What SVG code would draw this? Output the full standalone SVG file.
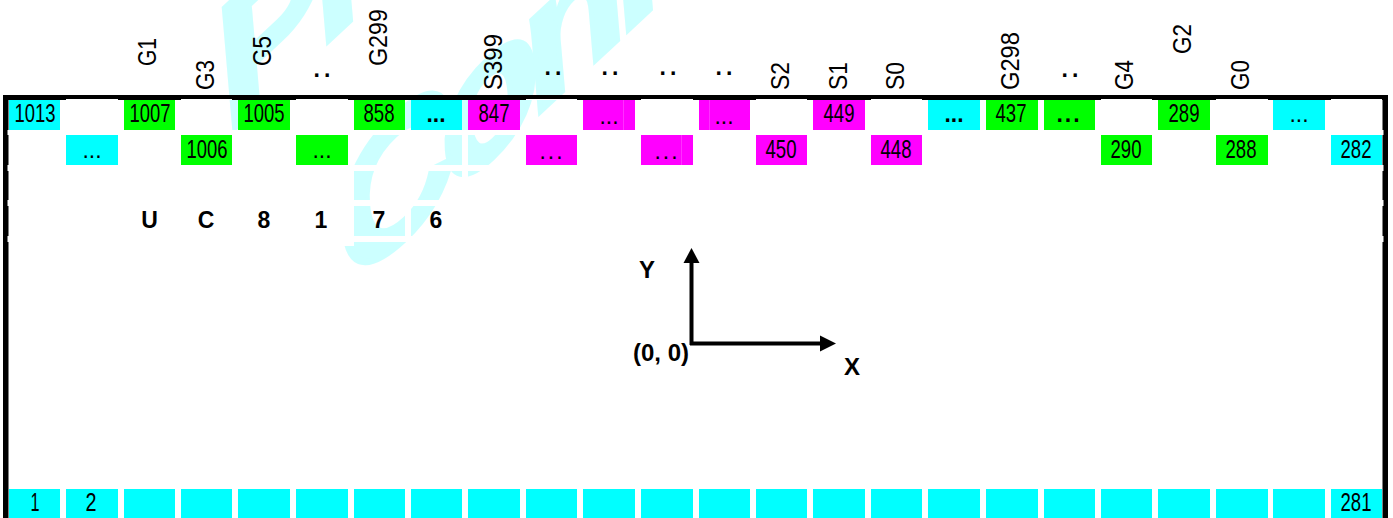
<svg xmlns="http://www.w3.org/2000/svg" width="1393" height="518" viewBox="0 0 1393 518">
<style>
text{font-family:"Liberation Sans",Arial,sans-serif;fill:#000}
.n{font-size:25px;text-anchor:middle}
.e{font-size:23px;text-anchor:middle}
.b{font-size:23px;font-weight:bold;text-anchor:middle}
.t{font-size:24px;font-weight:bold;text-anchor:middle}
.d{font-size:23px;font-weight:bold;text-anchor:middle;letter-spacing:4px}
.v{font-size:25px}
.w{font-size:170px;font-weight:bold;fill:#ccffff;stroke:#ccffff;stroke-width:5px}
.c{fill:#0ff}.g{fill:#0f0}.m{fill:#f0f}
.k{fill:#000}
.gap{fill:#fff}
.s{fill:#ff30ff}
</style>
<g id="watermark">
<text class="w" letter-spacing="-15" transform="matrix(.947 -.881 .09 1.04 224 139)">Pr</text>
<text class="w" letter-spacing="-15" transform="matrix(.947 -.881 .09 1.04 343 296)">Conf</text>
</g>
<g id="frame">
<rect class="k" x="3" y="95" width="1385" height="5"/>
<rect class="k" x="3" y="95" width="5.500" height="423"/>
<rect class="k" x="1382.500" y="95" width="5.500" height="423"/>
</g>
<g id="grid" class="gap">
<rect x="296" y="100" width="58" height="146"/>
<rect x="405" y="130" width="6" height="112"/><rect x="462" y="130" width="6" height="50"/>
<rect x="7.500" y="130" width="1376" height="5"/><rect x="7.500" y="165" width="1376" height="6"/><rect x="7.500" y="200" width="1376" height="6"/><rect x="7.500" y="236" width="1376" height="6"/>
<rect x="66" y="99" width="52" height="1"/><rect x="181" y="99" width="51" height="1"/><rect x="296" y="99" width="52" height="1"/><rect x="526" y="99" width="51" height="1"/><rect x="641" y="99" width="52" height="1"/><rect x="756" y="99" width="51" height="1"/><rect x="871" y="99" width="51" height="1"/><rect x="1101" y="99" width="51" height="1"/><rect x="1216" y="99" width="52" height="1"/><rect x="1331" y="99" width="51" height="1"/>
</g>
<g id="row1">
<g id="c1013"><rect class="c" x="9" y="100" width="51" height="30"/><text class="n" x="35" y="122" textLength="41" lengthAdjust="spacingAndGlyphs">1013</text></g>
<g id="c1007"><rect class="g" x="124" y="100" width="51" height="30"/><text class="n" x="150" y="122" textLength="41" lengthAdjust="spacingAndGlyphs">1007</text></g>
<g id="c1005"><rect class="g" x="238" y="100" width="52" height="30"/><text class="n" x="264" y="122" textLength="41" lengthAdjust="spacingAndGlyphs">1005</text></g>
<g id="c858"><rect class="g" x="354" y="100" width="51" height="30"/><text class="n" x="379" y="122" textLength="31" lengthAdjust="spacingAndGlyphs">858</text></g>
<g id="c1d"><rect class="c" x="411" y="100" width="51" height="30"/><text class="b" x="436" y="122" textLength="19" lengthAdjust="spacingAndGlyphs">...</text></g>
<g id="c847"><rect class="m" x="468" y="100" width="52" height="30"/><text class="n" x="494" y="122" textLength="31" lengthAdjust="spacingAndGlyphs">847</text></g>
<g id="c2d"><rect class="m" x="583" y="100" width="52" height="30"/><rect class="s" x="623" y="100" width="1" height="30"/><text class="e" x="609" y="124">...</text></g>
<g id="c3d"><rect class="m" x="699" y="100" width="51" height="30"/><rect class="s" x="709" y="100" width="1" height="30"/><text class="e" x="724" y="124">...</text></g>
<g id="c449"><rect class="m" x="813" y="100" width="52" height="30"/><text class="n" x="839" y="122" textLength="31" lengthAdjust="spacingAndGlyphs">449</text></g>
<g id="c4d"><rect class="c" x="928" y="100" width="52" height="30"/><text class="b" x="954" y="122" textLength="19" lengthAdjust="spacingAndGlyphs">...</text></g>
<g id="c437"><rect class="g" x="986" y="100" width="52" height="30"/><text class="n" x="1011" y="122" textLength="31" lengthAdjust="spacingAndGlyphs">437</text></g>
<g id="c5d"><rect class="g" x="1044" y="100" width="51" height="30"/><text class="b" x="1069" y="122" letter-spacing="2">...</text></g>
<g id="c289"><rect class="g" x="1158" y="100" width="52" height="30"/><text class="n" x="1184" y="122" textLength="31" lengthAdjust="spacingAndGlyphs">289</text></g>
<g id="c6d"><rect class="c" x="1273" y="100" width="52" height="30"/><text class="e" x="1299" y="122">...</text></g>
</g>
<g id="row2">
<g id="d1"><rect class="c" x="66" y="135" width="52" height="30"/><text class="e" x="92" y="158">...</text></g>
<g id="d1006"><rect class="g" x="181" y="135" width="51" height="30"/><text class="n" x="207" y="157.500" textLength="41" lengthAdjust="spacingAndGlyphs">1006</text></g>
<g id="d2"><rect class="g" x="296" y="135" width="52" height="30"/><text class="e" x="322" y="158">...</text></g>
<g id="d3"><rect class="m" x="526" y="135" width="51" height="30"/><text class="e" x="552" y="159" letter-spacing="2">...</text></g>
<g id="d4"><rect class="m" x="641" y="135" width="52" height="30"/><rect class="s" x="681" y="135" width="1" height="30"/><text class="e" x="667" y="159" letter-spacing="2">...</text></g>
<g id="d450"><rect class="m" x="756" y="135" width="51" height="30"/><text class="n" x="781" y="157.500" textLength="31" lengthAdjust="spacingAndGlyphs">450</text></g>
<g id="d448"><rect class="m" x="871" y="135" width="51" height="30"/><text class="n" x="896" y="157.500" textLength="31" lengthAdjust="spacingAndGlyphs">448</text></g>
<g id="d290"><rect class="g" x="1101" y="135" width="51" height="30"/><text class="n" x="1126" y="157.500" textLength="31" lengthAdjust="spacingAndGlyphs">290</text></g>
<g id="d288"><rect class="g" x="1216" y="135" width="52" height="30"/><text class="n" x="1241" y="157.500" textLength="31" lengthAdjust="spacingAndGlyphs">288</text></g>
<g id="d282"><rect class="c" x="1331" y="135" width="51" height="30"/><text class="n" x="1356" y="157.500" textLength="31" lengthAdjust="spacingAndGlyphs">282</text></g>
</g>
<g id="bottom" class="c">
<rect x="9" y="489" width="51" height="29"/><rect x="66" y="489" width="52" height="29"/><rect x="124" y="489" width="51" height="29"/><rect x="181" y="489" width="51" height="29"/><rect x="238" y="489" width="52" height="29"/><rect x="296" y="489" width="52" height="29"/><rect x="354" y="489" width="51" height="29"/><rect x="411" y="489" width="51" height="29"/><rect x="468" y="489" width="52" height="29"/><rect x="526" y="489" width="51" height="29"/><rect x="583" y="489" width="52" height="29"/><rect x="641" y="489" width="52" height="29"/><rect x="699" y="489" width="51" height="29"/><rect x="756" y="489" width="51" height="29"/><rect x="813" y="489" width="52" height="29"/><rect x="871" y="489" width="51" height="29"/><rect x="928" y="489" width="52" height="29"/><rect x="986" y="489" width="52" height="29"/><rect x="1044" y="489" width="51" height="29"/><rect x="1101" y="489" width="51" height="29"/><rect x="1158" y="489" width="52" height="29"/><rect x="1216" y="489" width="52" height="29"/><rect x="1273" y="489" width="52" height="29"/><rect x="1331" y="489" width="51" height="29"/>
</g>
<g id="bottom-labels">
<text class="n" x="35" y="511" textLength="9" lengthAdjust="spacingAndGlyphs">1</text>
<text class="n" x="91" y="511" textLength="11" lengthAdjust="spacingAndGlyphs">2</text>
<text class="n" x="1356" y="511" textLength="31" lengthAdjust="spacingAndGlyphs">281</text>
</g>
<g id="pins">
<text class="v" transform="translate(156,66) rotate(-90)" textLength="28" lengthAdjust="spacingAndGlyphs">G1</text>
<text class="v" transform="translate(214,90) rotate(-90)" textLength="30" lengthAdjust="spacingAndGlyphs">G3</text>
<text class="v" transform="translate(271,66) rotate(-90)" textLength="30" lengthAdjust="spacingAndGlyphs">G5</text>
<text class="d" x="324" y="77">..</text>
<text class="v" transform="translate(387,66) rotate(-90)" textLength="57" lengthAdjust="spacingAndGlyphs">G299</text>
<text class="v" transform="translate(502,90) rotate(-90)" textLength="56" lengthAdjust="spacingAndGlyphs">S399</text>
<text class="d" x="555" y="75">..</text>
<text class="d" x="612" y="75">..</text>
<text class="d" x="670" y="75">..</text>
<text class="d" x="726" y="75">..</text>
<text class="v" transform="translate(789,90) rotate(-90)" textLength="28" lengthAdjust="spacingAndGlyphs">S2</text>
<text class="v" transform="translate(847,90) rotate(-90)" textLength="28" lengthAdjust="spacingAndGlyphs">S1</text>
<text class="v" transform="translate(904,90) rotate(-90)" textLength="28" lengthAdjust="spacingAndGlyphs">S0</text>
<text class="v" transform="translate(1019,90) rotate(-90)" textLength="58" lengthAdjust="spacingAndGlyphs">G298</text>
<text class="d" x="1072" y="77">..</text>
<text class="v" transform="translate(1133,90) rotate(-90)" textLength="30" lengthAdjust="spacingAndGlyphs">G4</text>
<text class="v" transform="translate(1191,54) rotate(-90)" textLength="30" lengthAdjust="spacingAndGlyphs">G2</text>
<text class="v" transform="translate(1249,90) rotate(-90)" textLength="30" lengthAdjust="spacingAndGlyphs">G0</text>
</g>
<g id="title">
<text class="b" x="149.500" y="228">U</text><text class="b" x="206" y="228">C</text><text class="b" x="264" y="228">8</text><text class="b" x="321" y="228">1</text><text class="b" x="379" y="228">7</text><text class="b" x="436" y="228">6</text>
</g>
<g id="connectors">
<path d="M691.500 345V262" stroke="#000" stroke-width="4" fill="none"/>
<path d="M690 343.500H821" stroke="#000" stroke-width="4" fill="none"/>
<path d="M691.500 248L699.500 263H683.500Z"/>
<path d="M836 343.500L820 335.500V351.500Z"/>
</g>
<g id="axis-labels">
<text class="t" x="647" y="278">Y</text>
<text class="t" x="661" y="361">(0, 0)</text>
<text class="t" x="852" y="375">X</text>
</g>
</svg>
